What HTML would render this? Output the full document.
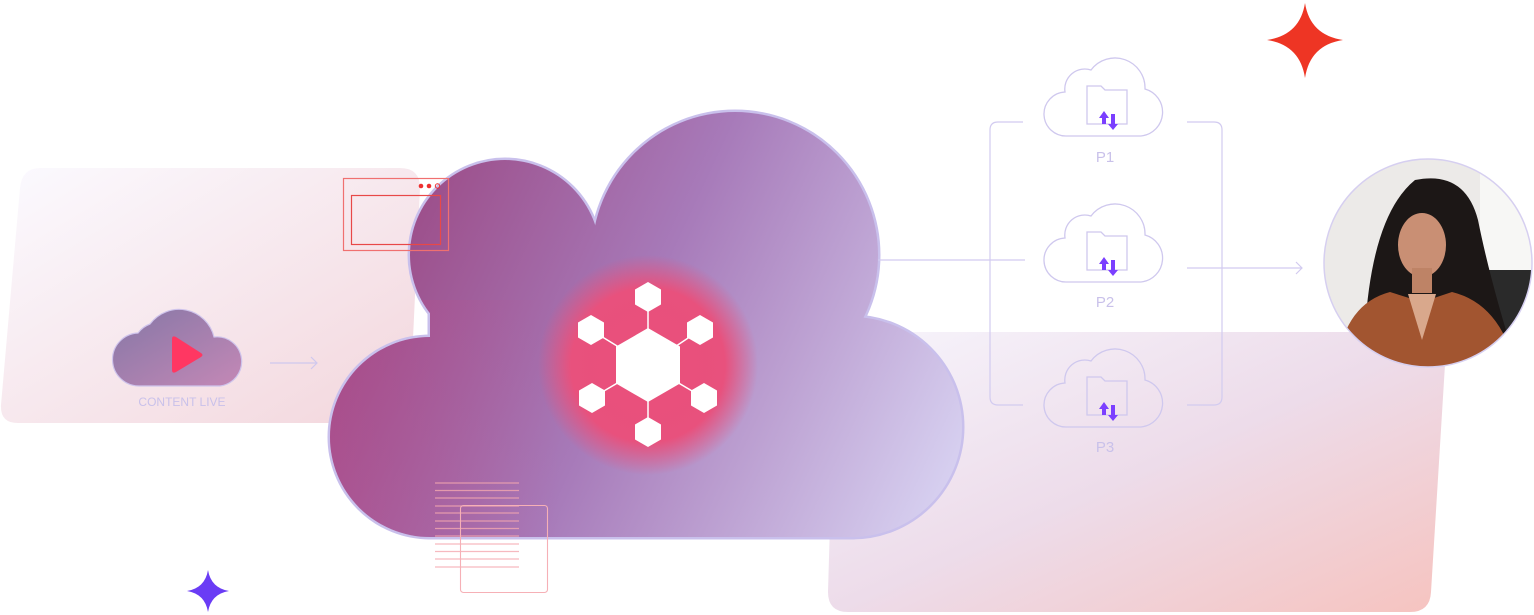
<!DOCTYPE html>
<html><head><meta charset="utf-8"><style>
html,body{margin:0;padding:0;background:#fff;}
svg{display:block;font-family:"Liberation Sans",sans-serif;}
</style></head><body>
<svg width="1534" height="615" viewBox="0 0 1534 615" xmlns="http://www.w3.org/2000/svg">
<defs>
<linearGradient id="lp" x1="0" y1="0" x2="1" y2="1">
<stop offset="0" stop-color="#fbfaff"/><stop offset="1" stop-color="#f3d6dc"/></linearGradient>
<linearGradient id="rp" x1="0" y1="0" x2="1" y2="1">
<stop offset="0" stop-color="#f7f5fc"/><stop offset="0.5" stop-color="#eddcea"/><stop offset="1" stop-color="#f6c3bf"/></linearGradient>
<linearGradient id="cg" gradientUnits="userSpaceOnUse" x1="340" y1="230" x2="960" y2="520">
<stop offset="0" stop-color="#9a4580"/><stop offset="0.45" stop-color="#a77ab9"/><stop offset="1" stop-color="#dad6f4"/></linearGradient>
<linearGradient id="cg2" gradientUnits="userSpaceOnUse" x1="330" y1="400" x2="560" y2="400">
<stop offset="0" stop-color="#c04c8c" stop-opacity="0.6"/><stop offset="1" stop-color="#c04c8c" stop-opacity="0"/></linearGradient>
<radialGradient id="glow" cx="0.5" cy="0.5" r="0.5">
<stop offset="0" stop-color="#ea4f7a"/><stop offset="0.7" stop-color="#e8517d"/><stop offset="1" stop-color="#e8517d" stop-opacity="0"/></radialGradient>
<linearGradient id="sc" x1="0" y1="0" x2="1" y2="1">
<stop offset="0" stop-color="#8577a6"/><stop offset="1" stop-color="#c488b6"/></linearGradient>
<clipPath id="pc"><circle cx="1428" cy="263" r="104"/></clipPath>
<clipPath id="cc">
<circle cx="430" cy="437" r="100"/><circle cx="505" cy="255" r="95"/><circle cx="735" cy="255" r="143"/><circle cx="852" cy="427" r="110"/><rect x="430" y="255" width="422" height="282"/>
</clipPath>
<g id="cl">
<path d="M22 80 A22 22 0 0 1 20 36 A20 20 0 0 1 46 14 A30 30 0 0 1 100 33 A24 24 0 0 1 96 80 Z" fill="none" stroke="#cfc8ee" stroke-width="1.3"/>
<path d="M42 30 H56 L60 34 H82 V68 H42 Z" fill="none" stroke="#cfc8ee" stroke-width="1.3"/>
<path d="M57 68 V62 H54 L59 55 L64 62 H61 V68 Z M66 58 H70 V68 H73 L68 74 L63 68 H66 Z" fill="#7b3fff"/>
</g>
</defs>

<path d="M40 168 H400 Q420 168 420 188 L410 403 Q409 423 390 423 H18 Q0 423 1 405 L20 188 Q22 168 40 168 Z" fill="url(#lp)"/>
<path d="M855 332 H1447 L1431 592 Q1430 612 1410 612 H848 Q828 612 828 592 L835 352 Q836 332 855 332 Z" fill="url(#rp)"/>

<path d="M140 386 A26 26 0 0 1 138 333 A26 26 0 0 1 150 324 A36 36 0 0 1 214 337 A24 24 0 0 1 220 386 Z" fill="url(#sc)" stroke="#cfc4ec" stroke-width="1.2"/>
<path d="M172 339 L172 370 Q172 374 176 372 L201 357 Q204 355 201 353 L176 337 Q172 335 172 339 Z" fill="#ff3762"/>
<text x="182" y="406" font-size="12" fill="#c9c1ea" text-anchor="middle">CONTENT LIVE</text>
<path d="M270 363 H317 M311 357 L317 363 L311 369" fill="none" stroke="#cfc8ee" stroke-width="1.2"/>

<g stroke="#c9c0ec" stroke-width="5" fill="#c9c0ec">
<circle cx="430" cy="437" r="100"/><circle cx="505" cy="255" r="95"/><circle cx="735" cy="255" r="143"/><circle cx="852" cy="427" r="110"/><rect x="430" y="255" width="422" height="282"/>
</g>
<g fill="url(#cg)">
<circle cx="430" cy="437" r="100"/><circle cx="505" cy="255" r="95"/><circle cx="735" cy="255" r="143"/><circle cx="852" cy="427" r="110"/><rect x="430" y="255" width="422" height="282"/>
</g>
<rect x="330" y="300" width="230" height="240" fill="url(#cg2)" opacity="0.6" clip-path="url(#cc)"/>

<rect x="343.5" y="178.5" width="105" height="72" fill="none" stroke="#f07070" stroke-width="1.2"/>
<rect x="351.5" y="195.5" width="89" height="49" fill="none" stroke="#e84848" stroke-width="1.2"/>
<circle cx="421" cy="186" r="2.3" fill="#ee3030"/><circle cx="429" cy="186" r="2.3" fill="#ee3030"/><circle cx="437.5" cy="186" r="2.2" fill="none" stroke="#ee3030" stroke-width="1"/>

<g stroke="#f4a8b0" stroke-width="1.2" opacity="0.8">
<line x1="435" y1="483" x2="519" y2="483"/><line x1="435" y1="490.5" x2="519" y2="490.5"/><line x1="435" y1="498" x2="519" y2="498"/><line x1="435" y1="506" x2="519" y2="506"/><line x1="435" y1="513" x2="519" y2="513"/><line x1="435" y1="521" x2="519" y2="521"/><line x1="435" y1="528.5" x2="519" y2="528.5"/><line x1="435" y1="536" x2="519" y2="536"/><line x1="435" y1="544" x2="519" y2="544"/><line x1="435" y1="551.5" x2="519" y2="551.5"/><line x1="435" y1="559" x2="519" y2="559"/><line x1="435" y1="567" x2="519" y2="567"/>
</g>
<rect x="460.5" y="505.5" width="87" height="87" rx="3" fill="none" stroke="#f6b0b6" stroke-width="1.1"/>

<circle cx="648" cy="365" r="110" fill="url(#glow)"/>
<g stroke="#fff" stroke-width="1.5">
<line x1="648" y1="365" x2="648" y2="297"/><line x1="648" y1="365" x2="591" y2="330"/><line x1="648" y1="365" x2="700" y2="330"/><line x1="648" y1="365" x2="592" y2="398"/><line x1="648" y1="365" x2="704" y2="398"/><line x1="648" y1="365" x2="648" y2="432"/>
</g>
<g fill="#fff">
<polygon points="648,328 680,346.5 680,383.5 648,402 616,383.5 616,346.5"/>
<polygon points="648,282 661,289.5 661,304.5 648,312 635,304.5 635,289.5"/>
<polygon points="591,315 604,322.5 604,337.5 591,345 578,337.5 578,322.5"/>
<polygon points="700,315 713,322.5 713,337.5 700,345 687,337.5 687,322.5"/>
<polygon points="592,383 605,390.5 605,405.5 592,413 579,405.5 579,390.5"/>
<polygon points="704,383 717,390.5 717,405.5 704,413 691,405.5 691,390.5"/>
<polygon points="648,417 661,424.5 661,439.5 648,447 635,439.5 635,424.5"/>
</g>

<g fill="none" stroke="#d2cbf0" stroke-width="1.2">
<line x1="878" y1="260" x2="1025" y2="260"/>
<path d="M1023 122 H998 Q990 122 990 130 V397 Q990 405 998 405 H1023"/>
<path d="M1187 122 H1214 Q1222 122 1222 130 V397 Q1222 405 1214 405 H1187"/>
<path d="M1187 268 H1302 M1296 262 L1302 268 L1296 274"/>
</g>
<use href="#cl" x="1045" y="56"/>
<use href="#cl" x="1045" y="202"/>
<use href="#cl" x="1045" y="347"/>
<g font-size="15" fill="#c9c1ea" text-anchor="middle">
<text x="1105" y="162">P1</text><text x="1105" y="307">P2</text><text x="1105" y="452">P3</text>
</g>

<g clip-path="url(#pc)">
<rect x="1320" y="155" width="220" height="220" fill="#eceae8"/>
<rect x="1480" y="160" width="60" height="120" fill="#f7f7f5"/>
<rect x="1460" y="270" width="80" height="100" fill="#2a2a2a"/>
<path d="M1365 330 Q1372 215 1415 180 Q1465 170 1478 220 Q1490 280 1515 360 L1380 350 Z" fill="#1c1716"/>
<ellipse cx="1422" cy="245" rx="24" ry="32" fill="#c98f74"/>
<rect x="1412" y="268" width="20" height="25" fill="#be8366"/>
<path d="M1335 380 Q1340 305 1390 292 L1422 302 L1452 292 Q1505 305 1518 380 Z" fill="#a25530"/>
<path d="M1408 294 L1422 340 L1436 294 Z" fill="#d9a88c"/>
</g>
<circle cx="1428" cy="263" r="104" fill="none" stroke="#d6cff0" stroke-width="1.5"/>

<path d="M1305 3 Q1310 35 1343 40 Q1310 45 1305 78 Q1300 45 1267 40 Q1300 35 1305 3 Z" fill="#ee3524"/>
<path d="M208 570 Q211 588 229 591 Q211 594 208 612 Q205 594 187 591 Q205 588 208 570 Z" fill="#6a3cf5"/>
</svg>
</body></html>
